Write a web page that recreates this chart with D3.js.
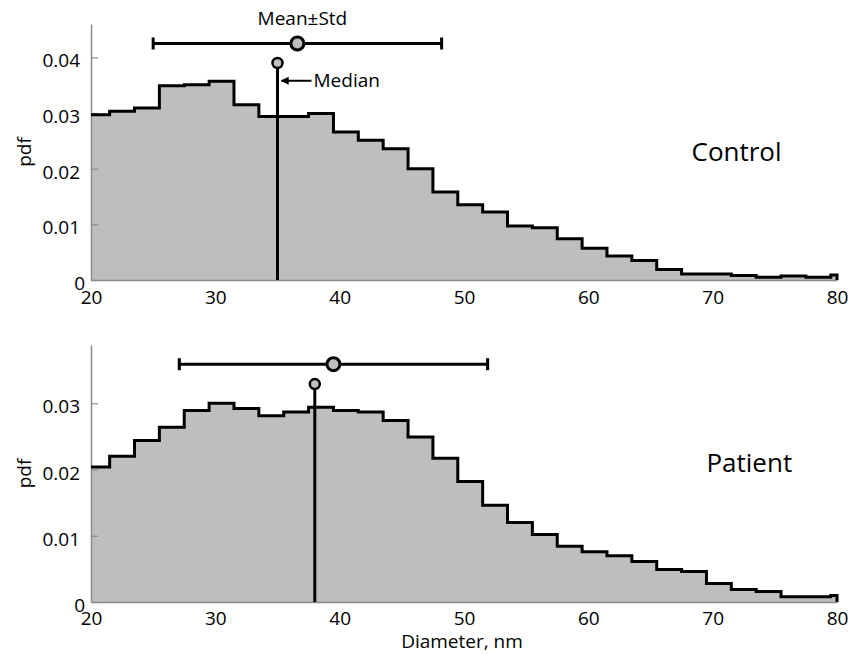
<!DOCTYPE html>
<html>
<head>
<meta charset="utf-8">
<script src="https://cdn.jsdelivr.net/npm/d3@7"></script>
<style>
  body { margin: 0; background: #fff; }
  svg { display: block; font-family: "Open Sans", "Noto Sans", sans-serif; }
</style>
</head>
<body>
<svg id="chart" width="862" height="654"></svg>
<script>
// bin left edges (width 2 nm), clipped to the 20..80 window when drawn
const binStarts = [19.5, 21.5, 23.5, 25.5, 27.5, 29.5, 31.5, 33.5, 35.5, 37.5, 39.5,
  41.5, 43.5, 45.5, 47.5, 49.5, 51.5, 53.5, 55.5, 57.5, 59.5, 61.5, 63.5, 65.5,
  67.5, 69.5, 71.5, 73.5, 75.5, 77.5, 79.5];

const controlPdf = [0.0297, 0.0303, 0.0309, 0.0349, 0.0351, 0.0357, 0.0315, 0.0294,
  0.0294, 0.0299, 0.0266, 0.0251, 0.0236, 0.0200, 0.0158, 0.0135, 0.0122, 0.0097,
  0.0094, 0.0074, 0.0057, 0.0043, 0.0035, 0.0019, 0.0011, 0.0011, 0.0008, 0.0005,
  0.0007, 0.0005, 0.0009];

const patientPdf = [0.0204, 0.0220, 0.0244, 0.0264, 0.0289, 0.0300, 0.0292, 0.0281,
  0.0287, 0.0294, 0.0289, 0.0287, 0.0274, 0.0249, 0.0217, 0.0182, 0.0146, 0.0120,
  0.0102, 0.0084, 0.0076, 0.0070, 0.0061, 0.0049, 0.0046, 0.0028, 0.0019, 0.0016,
  0.0008, 0.0008, 0.0010];

const groupNames = ['Control', 'Patient'];
const means = [36.6, 39.5];
const stds = [11.6, 12.4];
const medians = [35.0, 38.0];

const xTicks = [20, 30, 40, 50, 60, 70, 80];
const yTicksControl = [0, 0.01, 0.02, 0.03, 0.04];
const yTicksPatient = [0, 0.01, 0.02, 0.03];

const xDomain = [20, 80];

// layout for each panel (pixels + where annotations sit in data units)
const layout = [
  { pdf: controlPdf, yTicks: yTicksControl, yMax: 0.046, top: 24, bottom: 280, xPad: 11,
    barY: 0.0425, medTop: 0.0390, nameX: 68.3, nameY: 0.0213, annotate: true },
  { pdf: patientPdf, yTicks: yTicksPatient, yMax: 0.0388, top: 345, bottom: 602, xPad: 9.5,
    barY: 0.0359, medTop: 0.0329, nameX: 69.5, nameY: 0.0197, annotate: false }
];

const svg = d3.select('#chart');
const left = 91, right = 837;
const fontSize = 19;

svg.append('defs').append('marker')
  .attr('id', 'arrow')
  .attr('viewBox', '0 0 10 10')
  .attr('refX', 9).attr('refY', 5)
  .attr('markerWidth', 4).attr('markerHeight', 4)
  .attr('orient', 'auto')
  .append('path')
  .attr('d', 'M0,0 L10,5 L0,10 z')
  .attr('fill', '#000');

const x = d3.scaleLinear().domain(xDomain).range([left, right]);

layout.forEach((p, i) => {
  const y = d3.scaleLinear().domain([0, p.yMax]).range([p.bottom, p.top]);
  const g = svg.append('g');

  // histogram points, clipped to the x window
  const pts = binStarts.map((b, k) => [Math.max(b, xDomain[0]), p.pdf[k]]);
  pts.push([xDomain[1], p.pdf[p.pdf.length - 1]]);

  const area = d3.area()
    .x(d => x(d[0]))
    .y0(y(0))
    .y1(d => y(d[1]))
    .curve(d3.curveStepAfter);

  g.append('path')
    .datum(pts)
    .attr('d', area)
    .attr('fill', '#bebebe');

  // axes
  const yAxis = g.append('g')
    .attr('transform', `translate(${left},0)`)
    .call(d3.axisLeft(y)
      .tickValues(p.yTicks)
      .tickSize(-7)
      .tickSizeOuter(0)
      .tickPadding(11)
      .tickFormat(d => d === 0 ? '0' : d3.format('.2f')(d)));
  yAxis.select('.domain').attr('stroke', '#8a8a8a').attr('stroke-width', 1.5);
  yAxis.selectAll('.tick line').attr('stroke', '#8a8a8a').attr('stroke-width', 1.2);
  yAxis.selectAll('.tick text')
    .attr('font-size', fontSize)
    .attr('font-family', '"Open Sans", sans-serif')
    .attr('fill', '#000')
    .attr('dy', '0.5em')
    .attr('x', d => d === 0 ? -6 : -11);

  const xAxis = g.append('g')
    .attr('transform', `translate(0,${p.bottom})`)
    .call(d3.axisBottom(x)
      .tickValues(xTicks)
      .tickSize(0)
      .tickSizeOuter(0)
      .tickPadding(p.xPad));
  xAxis.select('.domain').attr('stroke', '#8a8a8a').attr('stroke-width', 1.5);
  xAxis.selectAll('.tick text')
    .attr('font-size', fontSize)
    .attr('font-family', '"Open Sans", sans-serif')
    .attr('fill', '#000');

  // stair outline, dropping to zero at the right edge
  const line = d3.line()
    .x(d => x(d[0]))
    .y(d => y(d[1]))
    .curve(d3.curveStepAfter);
  g.append('path')
    .datum(pts.concat([[xDomain[1], 0]]))
    .attr('d', line)
    .attr('fill', 'none')
    .attr('stroke', '#000')
    .attr('stroke-width', 3);

  // y label
  g.append('text')
    .attr('transform', `translate(31,${(p.top + p.bottom) / 2}) rotate(-90)`)
    .attr('text-anchor', 'middle')
    .attr('font-size', fontSize)
    .text('pdf');

  // group name
  g.append('text')
    .attr('x', x(p.nameX))
    .attr('y', y(p.nameY))
    .attr('font-size', 26)
    .text(groupNames[i]);

  // median line + marker
  const mx = x(medians[i]);
  g.append('line')
    .attr('x1', mx).attr('x2', mx)
    .attr('y1', y(0)).attr('y2', y(p.medTop) + 5)
    .attr('stroke', '#000').attr('stroke-width', 3);
  g.append('circle')
    .attr('cx', mx).attr('cy', y(p.medTop)).attr('r', 5)
    .attr('fill', '#bebebe').attr('stroke', '#000').attr('stroke-width', 2.5);

  // mean ± std bar
  const by = y(p.barY);
  const x0 = x(means[i] - stds[i]), x1 = x(means[i] + stds[i]);
  g.append('line')
    .attr('x1', x0).attr('x2', x1).attr('y1', by).attr('y2', by)
    .attr('stroke', '#000').attr('stroke-width', 3);
  [x0, x1].forEach(cx => {
    g.append('line')
      .attr('x1', cx).attr('x2', cx).attr('y1', by - 6).attr('y2', by + 6)
      .attr('stroke', '#000').attr('stroke-width', 3);
  });
  g.append('circle')
    .attr('cx', x(means[i])).attr('cy', by).attr('r', 6.5)
    .attr('fill', '#bebebe').attr('stroke', '#000').attr('stroke-width', 3);

  if (p.annotate) {
    g.append('text')
      .attr('x', x(means[i]) + 5)
      .attr('y', by - 18)
      .attr('text-anchor', 'middle')
      .attr('font-size', fontSize)
      .text('Mean±Std');

    const ay = y(0.0358);
    g.append('line')
      .attr('x1', mx + 34).attr('x2', mx + 4)
      .attr('y1', ay).attr('y2', ay)
      .attr('stroke', '#000').attr('stroke-width', 2)
      .attr('marker-end', 'url(#arrow)');
    g.append('text')
      .attr('x', mx + 36)
      .attr('y', ay + 6.5)
      .attr('font-size', fontSize)
      .text('Median');
  }
});

// shared x label
svg.append('text')
  .attr('x', x(50) - 2)
  .attr('y', 648)
  .attr('text-anchor', 'middle')
  .attr('font-size', fontSize)
  .text('Diameter, nm');
</script>
</body>
</html>
